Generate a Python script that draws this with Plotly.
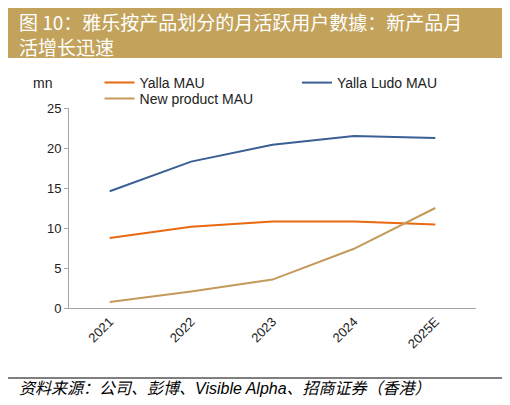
import plotly.graph_objects as go

# data (mn users)
years = ["2021", "2022", "2023", "2024", "2025E"]
yalla_mau = [8.75, 10.15, 10.8, 10.8, 10.45]
ludo_mau = [14.6, 18.3, 20.4, 21.5, 21.25]
new_product_mau = [0.75, 2.05, 3.55, 7.4, 12.5]

title_text = "图 10：雅乐按产品划分的月活跃用户數據：新产品月<br>活增长迅速"
source_text = "资料来源：公司、彭博、Visible Alpha、招商证券（香港）"

fig = go.Figure()
fig.add_trace(go.Scatter(x=years, y=yalla_mau, name="Yalla MAU", mode="lines",
                         line=dict(color="#E8690F", width=2), legend="legend"))
fig.add_trace(go.Scatter(x=years, y=ludo_mau, name="Yalla Ludo MAU", mode="lines",
                         line=dict(color="#3A5F94", width=2), legend="legend2"))
fig.add_trace(go.Scatter(x=years, y=new_product_mau, name="New product MAU", mode="lines",
                         line=dict(color="#C49A5A", width=2), legend="legend3"))

axis_font = dict(family="Liberation Sans, Arial", size=13, color="#222222")
leg_font = dict(family="Liberation Sans, Arial", size=14, color="#222222")


def leg(x, y):
    return dict(x=x, y=y, xanchor="left", yanchor="middle", bgcolor="rgba(0,0,0,0)",
                font=leg_font, itemwidth=30)


# page has an 8px body margin, so margins are 8px smaller than the target positions
fig.update_layout(
    width=510, height=405,
    margin=dict(l=61, r=42, t=100, b=105),
    paper_bgcolor="white", plot_bgcolor="white",
    font=axis_font,
    showlegend=True,
    legend=leg(0.075, 1.125),
    legend2=leg(0.56, 1.125),
    legend3=leg(0.075, 1.045),
    xaxis=dict(type="category", range=[-0.5, 4.5], showline=True,
               linecolor="#A6A6A6", linewidth=1, ticks="", tickangle=-45,
               showgrid=False, zeroline=False, tickfont=axis_font, automargin=False),
    yaxis=dict(range=[0, 25], dtick=5, showline=True, linecolor="#A6A6A6",
               linewidth=1, ticks="outside", ticklen=4, tickcolor="#A6A6A6",
               showgrid=False, zeroline=False, tickfont=axis_font, automargin=False),
)

# title band
fig.add_shape(type="rect", xref="paper", yref="paper",
              x0=-0.155, x1=1.071, y0=1.25, y1=1.51,
              fillcolor="#C3A35C", line=dict(width=0), layer="below")
fig.add_annotation(text=title_text, xref="paper", yref="paper",
                   x=-0.127, y=1.372, xanchor="left", yanchor="middle",
                   align="left", showarrow=False,
                   font=dict(family="Noto Sans CJK SC", size=19, color="white"))

# unit label
fig.add_annotation(text="mn", xref="paper", yref="paper", x=-0.065, y=1.125,
                   xanchor="center", yanchor="middle", showarrow=False,
                   font=leg_font)

# source line
fig.add_shape(type="line", xref="paper", yref="paper",
              x0=-0.155, x1=1.071, y0=-0.35, y1=-0.35,
              line=dict(color="black", width=1))
fig.add_annotation(text="<i>" + source_text + "</i>", xref="paper", yref="paper",
                   x=-0.127, y=-0.40, xanchor="left", yanchor="middle",
                   showarrow=False,
                   font=dict(family="Liberation Sans, Noto Sans CJK SC", size=16, color="black"))

fig.write_html("out.html")
